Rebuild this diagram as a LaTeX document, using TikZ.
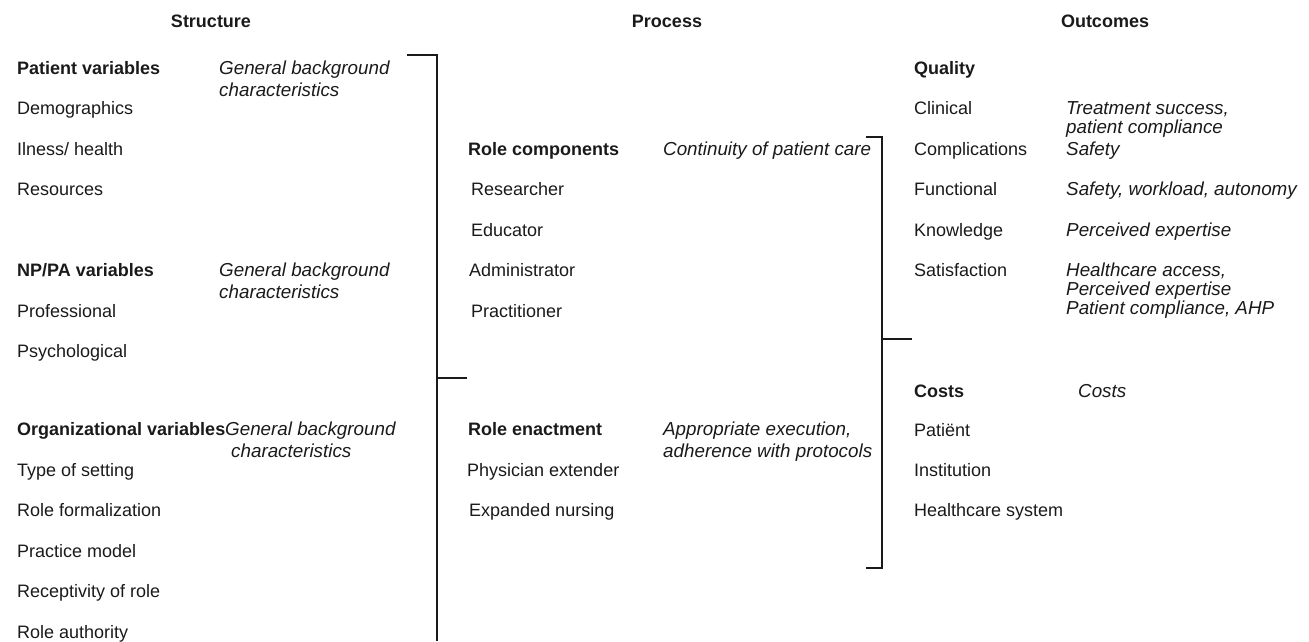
\documentclass[tikz,border=0pt]{standalone}
\usepackage{fontspec}
\setmainfont{Liberation Sans}
\definecolor{ink}{HTML}{1A1A1A}
\begin{document}
\begin{tikzpicture}[x=1pt,y=-1pt,
  txt/.style={anchor=base west, inner sep=0pt, text=ink, font=\fontsize{18}{22}\selectfont},
  var/.style={txt, font=\fontsize{18}{22}\selectfont\bfseries},
  note/.style={txt, font=\fontsize{18.8}{22}\selectfont\itshape},
  head/.style={anchor=base, inner sep=0pt, text=ink, font=\fontsize{18}{22}\selectfont\bfseries},
  bracket/.style={draw=ink, line width=1.2pt}]
\useasboundingbox (0,0) rectangle (1309,641);

% column headings
\node[head] (hs) at (211,27) {Structure};
\node[head] (hp) at (667,27) {Process};
\node[head] (ho) at (1105,27) {Outcomes};

% Structure
\node[var]  (pv)    at (17,74)  {Patient variables};
\node[note] (pvn1)  at (219,74) {General background};
\node[note] (pvn2)  at (219,96) {characteristics};
\node[txt]  (demo)  at (17,114) {Demographics};
\node[txt]  (ill)   at (17,155) {Ilness/ health};
\node[txt]  (res)   at (17,195) {Resources};
\node[var]  (np)    at (17,276) {NP/PA variables};
\node[note] (npn1)  at (219,276) {General background};
\node[note] (npn2)  at (219,298) {characteristics};
\node[txt]  (prof)  at (17,317) {Professional};
\node[txt]  (psy)   at (17,357) {Psychological};
\node[var]  (org)   at (17,435) {Organizational variables};
\node[note] (orgn1) at (225,435) {General background};
\node[note] (orgn2) at (231,457) {characteristics};
\node[txt]  (type)  at (17,476) {Type of setting};
\node[txt]  (form)  at (17,516) {Role formalization};
\node[txt]  (pm)    at (17,557) {Practice model};
\node[txt]  (rec)   at (17,597) {Receptivity of role};
\node[txt]  (auth)  at (17,638) {Role authority};

% Process
\node[var]  (rc)    at (468,155) {Role components};
\node[note] (rcn)   at (663,155) {Continuity of patient care};
\node[txt]  (rsch)  at (471,195) {Researcher};
\node[txt]  (edu)   at (471,236) {Educator};
\node[txt]  (adm)   at (469,276) {Administrator};
\node[txt]  (prac)  at (471,317) {Practitioner};
\node[var]  (re)    at (468,435) {Role enactment};
\node[note] (ren1)  at (663,435) {Appropriate execution,};
\node[note] (ren2)  at (663,457) {adherence with protocols};
\node[txt]  (phys)  at (467,476) {Physician extender};
\node[txt]  (expn)  at (469,516) {Expanded nursing};

% Outcomes
\node[var]  (qual)  at (914,74)  {Quality};
\node[txt]  (clin)  at (914,114) {Clinical};
\node[note] (clin1) at (1066,114) {Treatment success,};
\node[note] (clin2) at (1066,133) {patient compliance};
\node[txt]  (comp)  at (914,155) {Complications};
\node[note] (compn) at (1066,155) {Safety};
\node[txt]  (func)  at (914,195) {Functional};
\node[note] (funcn) at (1066,195) {Safety, workload, autonomy};
\node[txt]  (know)  at (914,236) {Knowledge};
\node[note] (known) at (1066,236) {Perceived expertise};
\node[txt]  (sat)   at (914,276) {Satisfaction};
\node[note] (sat1)  at (1066,276) {Healthcare access,};
\node[note] (sat2)  at (1066,295) {Perceived expertise};
\node[note] (sat3)  at (1066,314) {Patient compliance, AHP};
\node[var]  (cost)  at (914,397) {Costs};
\node[note] (costn) at (1078,397) {Costs};
\node[txt]  (pat)   at (914,436) {Patiënt};
\node[txt]  (inst)  at (914,476) {Institution};
\node[txt]  (hcs)   at (914,516) {Healthcare system};

% bracket from Structure to Process
\coordinate (b1t) at (407,55);
\coordinate (b1c) at (437,55);
\coordinate (b1b) at (437,641);
\coordinate (b1m) at (437,378);
\coordinate (b1e) at (467,378);
\draw[bracket] (b1t) -- (b1c) -- (b1b);
\draw[bracket] (b1m) -- (b1e);

% bracket from Process to Outcomes
\coordinate (b2t) at (866,137);
\coordinate (b2c) at (882,137);
\coordinate (b2d) at (882,568);
\coordinate (b2b) at (866,568);
\coordinate (b2m) at (882,339);
\coordinate (b2e) at (912,339);
\draw[bracket] (b2t) -- (b2c) -- (b2d) -- (b2b);
\draw[bracket] (b2m) -- (b2e);
\end{tikzpicture}
\end{document}
